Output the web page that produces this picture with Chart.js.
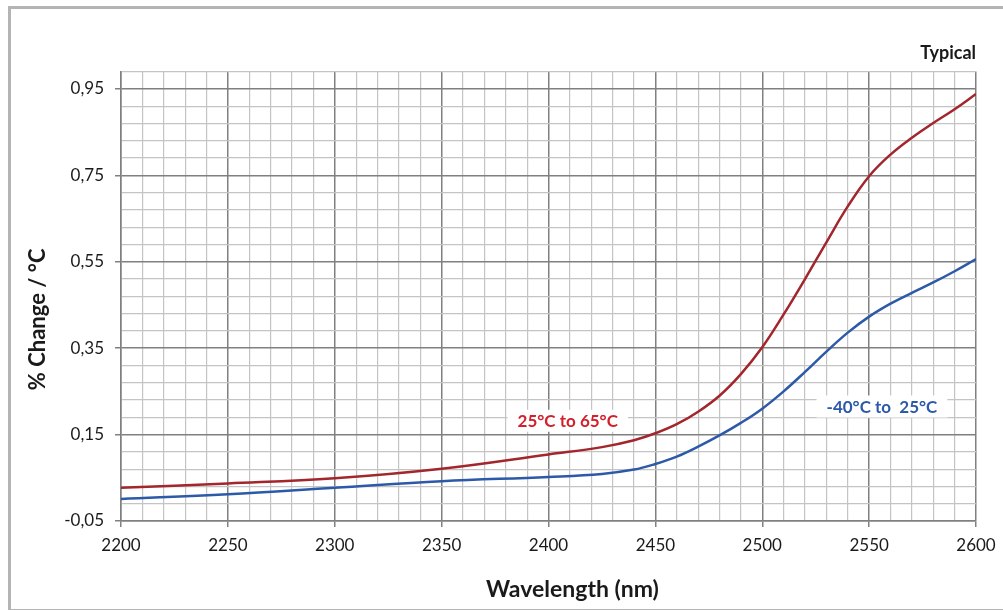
<!DOCTYPE html>
<html>
<head>
<meta charset="utf-8">
<script src="https://cdn.jsdelivr.net/npm/chart.js@4/dist/chart.umd.min.js"></script>
<style>
  html, body { margin: 0; padding: 0; background: #fff; overflow: hidden; }
  #wrap { position: relative; width: 1003px; height: 610px; }
  #frame {
    position: absolute; left: 8px; top: 6px; width: 1010px; height: 600px;
    border: 3px solid #b4b4b4; pointer-events: none;
  }
</style>
</head>
<body>
<div id="wrap">
  <canvas id="chart" width="1003" height="610"></canvas>
  <div id="frame"></div>
</div>
<script>
// Wavelength samples (nm)
const wavelengths = [2200, 2250, 2300, 2350, 2400, 2425, 2440, 2450, 2460, 2470, 2480, 2490,
                     2500, 2510, 2520, 2530, 2540, 2550, 2560, 2570, 2580, 2590, 2600];

// % change per °C
const hotSeries  = [0.027, 0.037, 0.049, 0.071, 0.104, 0.121, 0.137, 0.153, 0.174, 0.203, 0.240, 0.290,
                    0.352, 0.428, 0.510, 0.595, 0.678, 0.748, 0.798, 0.837, 0.871, 0.903, 0.938];
const coldSeries = [0.001, 0.012, 0.027, 0.042, 0.052, 0.059, 0.069, 0.082, 0.099, 0.122, 0.148, 0.177,
                    0.210, 0.250, 0.295, 0.342, 0.386, 0.423, 0.453, 0.478, 0.502, 0.528, 0.556];

const seriesNames = ['25°C to 65°C', '-40°C to  25°C'];
const seriesColors = ['#a3262d', '#2c5aa8'];
const labelColors = ['#d3202b', '#2c5aa8'];
// where each curve's name sits (wavelength, value)
const labelAnchors = [[2409, 0.182], [2556, 0.215]];

const xTitle = 'Wavelength (nm)';
const yTitle = '% Change / °C';

// axis layout
const xMin = 2200, xMax = 2600, xMinor = 10, xMajor = 50;
const yMin = -0.05, yMax = 0.99, yMinor = 0.04, yMajorEvery = 5;

const FONT = 'Lato, "Open Sans", sans-serif';

function toPoints(values) {
    return wavelengths.map((w, i) => ({ x: w, y: values[i] }));
}

// Build evenly spaced tick lists from the axis constants
function buildTicks(min, max, step) {
    const ticks = [];
    const n = Math.round((max - min) / step);
    for (let i = 0; i <= n; i++) {
        ticks.push({ value: +(min + i * step).toFixed(4) });
    }
    return ticks;
}

const isMajorX = v => Math.round(v) % xMajor === 0;
const isMajorY = idx => idx % yMajorEvery === 0;

// Curve name labels with a white box behind them
const curveLabels = {
    id: 'curveLabels',
    afterDatasetsDraw(chart) {
        const { ctx, scales } = chart;
        ctx.save();
        ctx.font = 'bold 17px ' + FONT;
        ctx.textAlign = 'center';
        ctx.textBaseline = 'middle';
        seriesNames.forEach((name, i) => {
            const px = scales.x.getPixelForValue(labelAnchors[i][0]);
            const py = scales.y.getPixelForValue(labelAnchors[i][1]);
            const w = ctx.measureText(name).width;
            ctx.fillStyle = '#fff';
            ctx.fillRect(px - w / 2 - 10, py - 11, w + 20, 22);
            ctx.fillStyle = labelColors[i];
            ctx.fillText(name, px, py + 1);
        });
        ctx.restore();
    }
};

// Axis titles, set a little off-centre like the original sheet
const axisTitles = {
    id: 'axisTitles',
    afterDraw(chart) {
        const { ctx, chartArea } = chart;
        ctx.save();
        ctx.fillStyle = '#1a1a1a';
        ctx.textAlign = 'center';
        ctx.textBaseline = 'middle';
        ctx.font = 'bold 23px ' + FONT;
        ctx.fillText(xTitle, (chartArea.left + chartArea.right) / 2 + 24, chartArea.bottom + 69);
        ctx.translate(chartArea.left - 83, (chartArea.top + chartArea.bottom) / 2 + 23);
        ctx.rotate(-Math.PI / 2);
        ctx.font = 'bold 22px ' + FONT;
        ctx.fillText(yTitle, 0, 0);
        ctx.restore();
    }
};

const chart = new Chart(document.getElementById('chart').getContext('2d'), {
    type: 'line',
    data: {
        datasets: [
            {
                label: seriesNames[0],
                data: toPoints(hotSeries),
                borderColor: seriesColors[0],
                borderWidth: 2.5,
                pointRadius: 0,
                tension: 0.4,
                fill: false
            },
            {
                label: seriesNames[1],
                data: toPoints(coldSeries),
                borderColor: seriesColors[1],
                borderWidth: 2.5,
                pointRadius: 0,
                tension: 0.4,
                fill: false
            }
        ]
    },
    options: {
        responsive: false,
        animation: false,
        events: [],
        layout: { padding: { left: 20, right: 27, top: 28, bottom: 0 } },
        plugins: {
            legend: { display: false },
            tooltip: { enabled: false },
            title: {
                display: true,
                text: 'Typical',
                align: 'end',
                color: '#1a1a1a',
                font: { family: FONT, size: 18, weight: 'bold' },
                padding: { top: 14, bottom: 8 }
            }
        },
        scales: {
            x: {
                type: 'linear',
                min: xMin,
                max: xMax,
                afterBuildTicks: scale => { scale.ticks = buildTicks(xMin, xMax, xMinor); },
                afterFit: scale => {
                    scale.height = 89;
                    scale.paddingLeft = 0;
                    scale.paddingRight = 0;
                },
                border: { display: true, color: '#808080', width: 1.5 },
                grid: {
                    color: ctx => isMajorX(ctx.tick.value) ? '#808080' : '#c4c4c4',
                    lineWidth: ctx => isMajorX(ctx.tick.value) ? 1.5 : 1.2,
                    tickColor: ctx => isMajorX(ctx.tick.value) ? '#808080' : 'rgba(0,0,0,0)',
                    tickLength: 6
                },
                ticks: {
                    autoSkip: false,
                    maxRotation: 0,
                    padding: 8,
                    color: '#1a1a1a',
                    font: { family: FONT, size: 17 },
                    callback: v => isMajorX(v) ? String(Math.round(v)) : ''
                }
            },
            y: {
                type: 'linear',
                min: yMin,
                max: yMax,
                afterBuildTicks: scale => { scale.ticks = buildTicks(yMin, yMax, yMinor); },
                afterFit: scale => { scale.width = 101; },
                border: { display: true, color: '#808080', width: 1.5 },
                grid: {
                    color: ctx => isMajorY(ctx.index) ? '#808080' : '#c4c4c4',
                    lineWidth: ctx => isMajorY(ctx.index) ? 1.5 : 1.2,
                    tickColor: ctx => isMajorY(ctx.index) ? '#808080' : 'rgba(0,0,0,0)',
                    tickLength: 6
                },
                ticks: {
                    autoSkip: false,
                    padding: 11,
                    color: '#1a1a1a',
                    font: { family: FONT, size: 17 },
                    callback: (v, idx) => isMajorY(idx) ? v.toFixed(2).replace('.', ',') : ''
                }
            }
        }
    },
    plugins: [curveLabels, axisTitles]
});
</script>
</body>
</html>
